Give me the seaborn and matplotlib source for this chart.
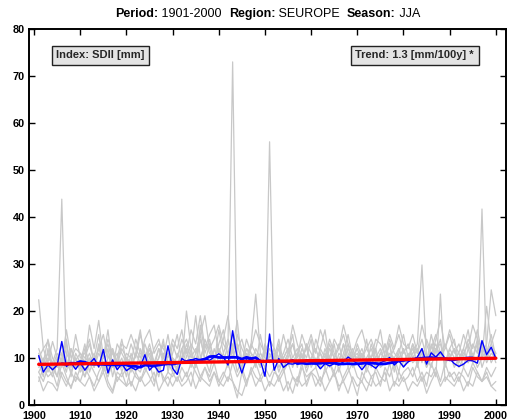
import numpy as np
import pandas as pd
import seaborn as sns
import matplotlib
matplotlib.use("Agg")
import matplotlib.pyplot as plt
from matplotlib.offsetbox import TextArea, HPacker, AnchoredOffsetbox

years = list(range(1901, 2001))

# regional mean SDII (blue)
mean_sdii = [
    10.5, 7.0, 8.5, 7.5, 8.5, 13.5, 8.2, 9.0, 7.6, 9.0,
    7.4, 8.8, 9.9, 8.1, 11.8, 6.8, 9.6, 7.5, 8.8, 7.3,
    8.0, 7.5, 8.2, 10.7, 7.4, 8.5, 7.0, 7.4, 12.6, 7.8,
    6.5, 9.9, 9.2, 9.5, 9.9, 9.6, 9.9, 9.5, 10.2, 10.9,
    10.2, 8.5, 15.8, 9.9, 6.8, 9.9, 9.6, 10.2, 9.5, 6.1,
    15.1, 7.4, 9.9, 8.0, 8.8, 8.7, 9.0, 9.2, 9.6, 9.5,
    9.0, 7.7, 8.8, 8.3, 8.8, 8.5, 9.2, 10.2, 9.5, 8.8,
    7.5, 8.8, 8.5, 7.8, 9.0, 9.4, 10.1, 8.5, 9.4, 8.1,
    9.2, 9.6, 10.2, 12.0, 8.7, 11.1, 10.2, 11.3, 9.9, 9.9,
    8.8, 8.2, 8.7, 9.5, 9.4, 8.9, 13.7, 10.7, 12.3, 9.9,
]

# individual stations (grey)
g1 = [22.4, 12, 9, 13.5, 10, 11, 8, 12, 9.5, 11,
      10, 13, 9, 12, 15, 10, 11, 8.5, 12, 10,
      9, 14, 11, 10, 13, 9, 12, 10, 15, 9,
      8, 12, 14, 11, 19, 10, 13, 12, 9, 16,
      11, 14, 10, 13, 9, 12, 11, 10, 8, 13,
      10, 12, 9, 11, 14, 10, 12, 9, 13, 11,
      9, 12, 10, 14, 11, 9, 13, 10, 12, 9,
      11, 8, 13, 10, 12, 9, 14, 11, 10, 12,
      9, 13, 11, 14, 10, 12, 15, 11, 13, 10,
      12, 9, 11, 13, 10, 14, 12, 11, 13, 11]
g2 = [6, 3, 5, 4.5, 3, 7, 5, 4, 6, 5,
      4, 6, 3, 5, 7, 4, 2.5, 6, 5, 4,
      5, 3, 6, 4, 5, 7, 3, 5, 6, 4,
      6, 4, 5, 7, 3.5, 6, 5, 4, 7, 5,
      4, 6, 5, 3, 2, 5, 7, 4, 6, 3,
      5, 4, 6, 3, 5, 2.5, 6, 4, 5, 7,
      4, 6, 3, 5, 7, 4, 5, 2.5, 6, 4,
      5, 3, 6, 4, 5, 7, 3, 5, 4, 6,
      3, 5, 4, 6, 2.5, 5, 7, 4, 6, 5,
      4, 6, 3, 5, 4, 7, 5, 6, 4, 5]
g3 = [11, 8, 10, 9, 12, 43.8, 9, 7, 10, 8,
      12, 9, 11, 8, 10, 13, 9, 11, 7, 10,
      8, 11, 9, 13, 10, 8, 12, 9, 11, 10,
      9, 10, 12, 8, 11, 15, 9, 13, 10, 12,
      10, 9, 13, 11, 8, 12, 10, 9, 11, 10,
      9, 11, 8, 10, 12, 9, 11, 13, 8, 10,
      12, 9, 11, 8, 10, 13, 9, 12, 10, 11,
      8, 10, 12, 9, 11, 10, 13, 8, 12, 9,
      11, 9, 10, 12, 8, 13, 10, 11, 9, 12,
      10, 11, 8, 12, 9, 10, 13, 9, 11, 10]
g4 = [8, 10, 7, 9, 6, 11, 13, 8, 10, 7,
      9, 11, 8, 13, 7, 10, 12, 9, 8, 11,
      10, 7, 12, 9, 11, 8, 10, 13, 9, 7,
      11, 9, 13, 10, 12, 9, 14, 11, 10, 12,
      9, 13, 73, 10, 8, 11, 9, 12, 10, 8,
      11, 9, 12, 8, 10, 13, 9, 11, 7, 10,
      9, 11, 8, 12, 10, 9, 13, 8, 11, 10,
      12, 9, 10, 8, 11, 13, 9, 10, 12, 8,
      10, 12, 9, 11, 8, 10, 12, 13, 9, 11,
      8, 10, 12, 9, 11, 8, 10, 12, 9, 11]
g5 = [9, 6, 12, 7, 10, 8, 14, 6, 11, 9,
      13, 7, 10, 15, 8, 12, 6, 10, 14, 9,
      7, 11, 16, 9, 12, 8, 10, 14, 7, 11,
      15, 9, 20, 12, 8, 17, 11, 14, 9, 13,
      16, 10, 12, 18, 9, 14, 11, 8, 15, 10,
      56, 9, 13, 7, 11, 15, 8, 12, 10, 14,
      8, 12, 16, 9, 13, 7, 11, 15, 10, 12,
      9, 14, 8, 12, 16, 10, 13, 7, 11, 15,
      10, 13, 8, 12, 9, 15, 11, 14, 8, 12,
      14, 9, 12, 16, 10, 13, 8, 11, 15, 10]
g6 = [7, 9, 11, 8, 6, 10, 7, 12, 8, 9,
      6, 10, 8, 11, 9, 7, 12, 8, 10, 6,
      11, 8, 7, 10, 12, 9, 6, 11, 8, 10,
      7, 12, 9, 11, 8, 14, 10, 7, 12, 9,
      11, 8, 12, 7, 10, 9, 13, 11, 8, 12,
      9, 11, 7, 10, 12, 8, 11, 9, 13, 8,
      10, 8, 12, 9, 7, 11, 10, 13, 8, 9,
      11, 7, 10, 12, 8, 9, 11, 10, 7, 12,
      9, 11, 13, 29.8, 10, 8, 12, 11, 9, 10,
      12, 8, 10, 9, 13, 11, 41.7, 10, 12, 9]
g7 = [12, 9, 14, 10, 8, 13, 11, 9, 15, 10,
      11, 14, 9, 12, 10, 16, 8, 13, 11, 9,
      13, 10, 15, 11, 9, 12, 14, 10, 8, 13,
      10, 14, 11, 16, 13, 19, 12, 15, 17, 11,
      14, 19, 11, 15, 12, 10, 13, 23.6, 11, 9,
      12, 10, 14, 9, 11, 13, 10, 15, 12, 9,
      14, 11, 9, 13, 10, 12, 15, 11, 9, 13,
      10, 12, 14, 11, 9, 13, 10, 12, 15, 11,
      13, 10, 12, 9, 14, 11, 13, 10, 12, 15,
      11, 13, 10, 14, 12, 16, 11, 13, 24.5, 19]
g8 = [5, 8, 6, 7, 4, 9, 6, 3.5, 7, 5,
      8, 6, 4, 7, 9, 5, 3, 7, 6, 8,
      4, 7, 5, 8, 6, 4, 9, 5, 7, 6,
      8, 5, 7, 4, 9, 6, 8, 5, 7, 4,
      6, 9, 5, 1.5, 7, 4, 8, 6, 5, 7,
      4, 7, 6, 8, 3, 6, 5, 9, 4, 7,
      6, 4, 8, 5, 7, 3, 6, 8, 5, 2,
      7, 5, 4, 8, 6, 5, 9, 4, 7, 5,
      6, 8, 5, 7, 4, 9, 6, 23.6, 5, 7,
      5, 7, 6, 4, 8, 6, 5, 7, 4, 3]
g9 = [10, 12, 13.5, 8, 11, 9, 16, 10, 12, 11,
      9, 17, 12, 18, 10, 14, 11, 9, 13, 12,
      15, 12, 10, 14, 16, 11, 13, 12, 10, 14,
      12, 16, 10, 13, 11, 15, 19, 12, 14, 17,
      13, 11, 15, 12, 14, 10, 12, 16, 13, 11,
      14, 12, 10, 15, 11, 17, 13, 10, 12, 15,
      11, 16, 13, 10, 14, 12, 17, 13, 11, 14,
      16, 12, 10, 14, 13, 11, 15, 12, 17, 13,
      12, 15, 11, 17, 13, 10, 14, 18, 12, 16,
      13, 11, 15, 12, 17, 14, 10, 21, 13, 16]
g10 = [7, 5, 8, 6, 9, 6, 4, 7, 5, 8,
       6, 9, 7, 5, 8, 6, 9, 5, 7, 4,
       8, 6, 5, 7, 9, 5, 8, 6, 4, 7,
       5, 8, 6, 9, 7, 5, 8, 6, 9, 5,
       7, 5, 9, 6, 8, 5, 7, 9, 6, 8,
       6, 8, 5, 7, 9, 6, 4, 8, 6, 7,
       8, 5, 7, 9, 6, 8, 5, 7, 9, 6,
       5, 8, 6, 7, 4, 8, 6, 9, 5, 7,
       8, 6, 9, 5, 7, 6, 8, 5, 9, 6,
       7, 5, 8, 6, 9, 7, 5, 8, 6, 8]
stations = [g1, g2, g3, g4, g5, g6, g7, g8, g9, g10]

trend_years = [1901, 2000]
trend_values = [8.65, 9.95]

x_ticks = list(range(1900, 2001, 10))
y_ticks = list(range(0, 81, 10))

# ---------------------------------------------------------------
sns.set_style("white")
plt.rcParams["font.family"] = ["Liberation Sans", "DejaVu Sans"]

fig = plt.figure(figsize=(5.1, 4.2), dpi=100)
ax = fig.add_axes([29 / 510, 1 - 405 / 420, 477 / 510, 376 / 420])

grey = pd.DataFrame({
    "year": np.tile(years, len(stations)),
    "value": np.concatenate([np.asarray(s, float) for s in stations]),
    "station": np.repeat(np.arange(len(stations)), len(years)),
})
sns.lineplot(data=grey, x="year", y="value", units="station", estimator=None,
             color="#c8c8c8", lw=0.9, ax=ax, legend=False)

blue = pd.DataFrame({"year": years, "value": mean_sdii})
blue["smooth"] = blue["value"].rolling(11, center=True).mean()
sns.lineplot(data=blue, x="year", y="value", color="#0000ff", lw=1.0, ax=ax)
sns.lineplot(data=blue.dropna(), x="year", y="smooth", color="#0000ff", lw=2.0, ax=ax)

tr = pd.DataFrame({"year": trend_years, "value": trend_values})
sns.lineplot(data=tr, x="year", y="value", color="#ff0000", lw=2.4, ax=ax)

ax.set_xlim(1898.9, 2002.2)
ax.set_ylim(0, 80)
ax.set_xticks(x_ticks)
ax.set_yticks(y_ticks)
ax.set_xlabel("")
ax.set_ylabel("")
for s in ax.spines.values():
    s.set_visible(True)
    s.set_color("black")
    s.set_linewidth(1.4)
ax.tick_params(direction="in", length=4, width=1.0, top=True, right=True,
               left=True, bottom=True, labelsize=7.8, colors="black")
ax.tick_params(axis="x", pad=4.5)
ax.tick_params(axis="y", pad=3)
for lab in ax.get_xticklabels() + ax.get_yticklabels():
    lab.set_fontweight("bold")

box = dict(boxstyle="square,pad=0.42", facecolor="#e4e4e4", edgecolor="#222222", lw=1.0)
ax.text(0.057, 0.93, "Index: SDII [mm]", transform=ax.transAxes, fontsize=8,
        fontweight="bold", ha="left", va="center", bbox=box)
ax.text(0.933, 0.93, "Trend: 1.3 [mm/100y] *", transform=ax.transAxes, fontsize=8,
        fontweight="bold", ha="right", va="center", bbox=box)

parts = [("Period:", "bold"), (" 1901-2000  ", "normal"), ("Region:", "bold"),
         (" SEUROPE  ", "normal"), ("Season:", "bold"), (" JJA", "normal")]
areas = [TextArea(t, textprops=dict(fontsize=9, fontweight=w, color="black")) for t, w in parts]
pack = HPacker(children=areas, align="baseline", pad=0, sep=0)
anch = AnchoredOffsetbox(loc="lower center", child=pack, pad=0, frameon=False,
                         bbox_to_anchor=(0.5, 1.025), bbox_transform=ax.transAxes,
                         borderpad=0)
ax.add_artist(anch)

fig.savefig("out.png", dpi=100)
